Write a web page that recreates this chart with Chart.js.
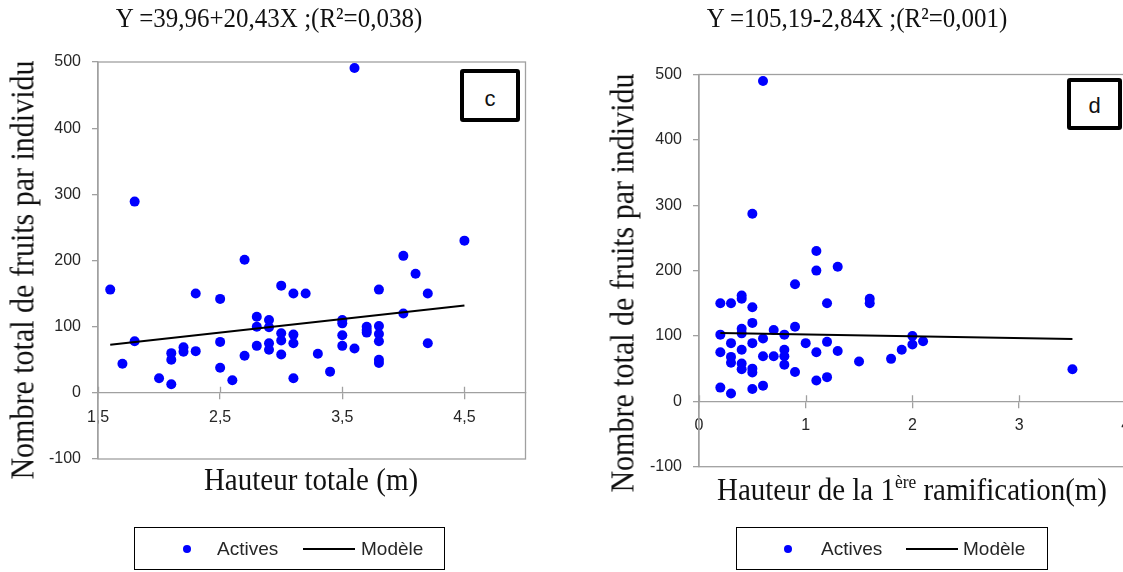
<!DOCTYPE html>
<html lang="fr">
<head>
<meta charset="utf-8">
<title>Nombre total de fruits par individu</title>
<script src="https://cdn.jsdelivr.net/npm/chart.js@4.4.1/dist/chart.umd.min.js"></script>
<style>
  html, body { margin: 0; padding: 0; background: #fff; }
  body { position: relative; width: 1123px; height: 572px; overflow: hidden; }
  .bloc { position: absolute; top: 0; }
  .serif { position: absolute; font-family: 'Liberation Serif', 'Times New Roman', serif; color: #111; white-space: nowrap; text-align: center; }
  .titre { font-size: 25px; line-height: 25px; top: 5px; transform: scaleY(1.12); }
  .axe-x { font-size: 29px; line-height: 29px; transform: scaleY(1.1); }
  .axe-y { font-size: 30px; line-height: 30px; width: 500px; transform: rotate(-90deg) scaleY(1.09); }
  .axe-x sup { font-size: 0.6em; line-height: 0; vertical-align: 0.6em; }
  .lettre { position: absolute; box-sizing: border-box; border: 4px solid #000; border-radius: 3px; background: #fff;
            font: 22px 'Liberation Sans', Arial, sans-serif; color: #111; display: flex; align-items: center; justify-content: center; }
  .legende { position: absolute; box-sizing: border-box; top: 527px; height: 43px; border: 1.5px solid #000; }
  .leg { position: absolute; top: 539px; font: 19px 'Liberation Sans', Arial, sans-serif; line-height: 20px; color: #262626; }
  .pt { position: absolute; top: 545px; width: 8px; height: 8px; border-radius: 50%; background: #0000ff; }
  .trait { position: absolute; top: 548px; width: 52px; height: 2px; background: #000; }
</style>
</head>
<body>
<div class="bloc" style="left:0;"><canvas id="grapheC" width="560" height="572"></canvas></div>
<div class="bloc" style="left:560px;"><canvas id="grapheD" width="580" height="572"></canvas></div>

<div class="serif titre" style="left:0; width:538px;">Y =39,96+20,43X ;(R²=0,038)</div>
<div class="serif titre" style="left:557px; width:600px;">Y =105,19-2,84X ;(R²=0,001)</div>

<div class="serif axe-y" style="left:-227px; top:255px;">Nombre total de fruits par individu</div>
<div class="serif axe-y" style="left:373px; top:268px;">Nombre total de fruits par individu</div>

<div class="serif axe-x" style="left:111px; width:400px; top:465px;">Hauteur totale (m)</div>
<div class="serif axe-x" style="left:662px; width:500px; top:475px;">Hauteur de la 1<sup>ère</sup> ramification(m)</div>

<div class="lettre" style="left:460px; top:69px; width:60px; height:53px; padding-top:6px;">c</div>
<div class="lettre" style="left:1067px; top:78px; width:55px; height:52px; padding-top:4px;">d</div>

<div class="legende" style="left:134px; width:311px;"></div>
<div class="pt" style="left:183px;"></div>
<div class="leg" style="left:217px;">Actives</div>
<div class="trait" style="left:303px;"></div>
<div class="leg" style="left:361px;">Modèle</div>

<div class="legende" style="left:736px; width:312px;"></div>
<div class="pt" style="left:784px;"></div>
<div class="leg" style="left:821px;">Actives</div>
<div class="trait" style="left:906px;"></div>
<div class="leg" style="left:963px;">Modèle</div>

<script>
// graphe c : hauteur totale (m) / nombre de fruits
const hauteurTotale = [1.6, 1.7, 1.8, 1.8, 2.0, 2.1, 2.1, 2.1, 2.2, 2.2, 2.3, 2.3, 2.5, 2.5, 2.5, 2.6, 2.7, 2.7, 2.8, 2.8,
  2.8, 2.9, 2.9, 2.9, 2.9, 3.0, 3.0, 3.0, 3.0, 3.1, 3.1, 3.1, 3.1, 3.2, 3.3, 3.4, 3.5, 3.5, 3.5, 3.5,
  3.6, 3.6, 3.7, 3.7, 3.7, 3.8, 3.8, 3.8, 3.8, 3.8, 3.8, 4.0, 4.0, 4.1, 4.2, 4.2, 4.5];
const fruitsC = [156, 44, 289, 78, 22, 60, 50, 13, 69, 62, 150, 63, 142, 77, 38, 19, 201, 56, 115, 100,
  71, 110, 99, 75, 65, 162, 90, 79, 58, 150, 88, 75, 22, 150, 59, 32, 110, 105, 87, 71,
  491, 67, 100, 95, 91, 156, 101, 89, 78, 50, 45, 207, 120, 180, 150, 75, 230];
const modeleCx = [1.6, 4.5];
const modeleCy = [72.6, 131.9];

// graphe d : hauteur de la 1ère ramification (m) / nombre de fruits
const hauteurRamif = [0.2, 0.2, 0.2, 0.2, 0.3, 0.3, 0.3, 0.3, 0.3, 0.4, 0.4, 0.4, 0.4, 0.4, 0.4, 0.4,
  0.5, 0.5, 0.5, 0.5, 0.5, 0.5, 0.5, 0.6, 0.6, 0.6, 0.6, 0.7, 0.7, 0.8, 0.8, 0.8, 0.8, 0.9, 0.9, 0.9,
  1.0, 1.1, 1.1, 1.1, 1.1, 1.2, 1.2, 1.2, 1.3, 1.3, 1.5, 1.6, 1.6, 1.8, 1.9, 2.0, 2.0, 2.1, 3.5];
const fruitsD = [150, 102, 75, 21, 150, 89, 68, 59, 12, 162, 157, 111, 104, 79, 58, 49,
  287, 144, 120, 89, 50, 44, 19, 490, 96, 69, 24, 109, 69, 102, 79, 69, 56, 179, 114, 45,
  89, 230, 200, 75, 32, 150, 91, 37, 206, 77, 61, 157, 150, 65, 79, 100, 87, 92, 49];
const modeleDx = [0.2, 3.5];
const modeleDy = [104.6, 95.2];

const ticksXc = [1.5, 2.5, 3.5, 4.5];
const ticksXd = [0, 1, 2, 3, 4];
const ticksY = [-100, 0, 100, 200, 300, 400, 500];

Chart.defaults.font.family = "'Liberation Sans', Arial, sans-serif";

// cadre gris de la zone de tracé + petites marques au-dessus de l'axe X
const cadre = {
  id: 'cadre',
  beforeDatasetsDraw(chart) {
    const { ctx, chartArea: a, scales: { x, y } } = chart;
    ctx.save();
    ctx.strokeStyle = '#a0a0a0';
    ctx.lineWidth = 1.3;
    ctx.strokeRect(a.left, a.top, a.right - a.left, a.bottom - a.top);
    const y0 = y.getPixelForValue(0);
    ctx.beginPath();
    x.ticks.forEach(t => {
      const px = Math.round(x.getPixelForValue(t.value)) + 0.5;
      ctx.moveTo(px, y0 - 6);
      ctx.lineTo(px, y0);
    });
    ctx.stroke();
    ctx.restore();
  }
};

function creerGraphe(id, xs, ys, mx, my, xMin, xMax, ticksX, pad) {
  const points = xs.map((x, i) => ({ x, y: ys[i] }));
  const modele = mx.map((x, i) => ({ x, y: my[i] }));
  const grille = { drawOnChartArea: false, drawTicks: true, tickLength: 6, color: '#a0a0a0', lineWidth: 1.3 };

  return new Chart(document.getElementById(id), {
    type: 'scatter',
    data: {
      datasets: [
        {
          label: 'Actives',
          data: points,
          backgroundColor: '#0000ff',
          borderColor: '#0000ff',
          borderWidth: 0,
          pointRadius: 5,
          pointHoverRadius: 5,
          order: 1
        },
        {
          type: 'line',
          label: 'Modèle',
          data: modele,
          borderColor: '#000',
          borderWidth: 2,
          pointRadius: 0,
          fill: false,
          order: 0
        }
      ]
    },
    options: {
      responsive: false,
      animation: false,
      events: [],
      layout: { padding: pad },
      plugins: { legend: { display: false }, tooltip: { enabled: false } },
      scales: {
        x: {
          type: 'linear',
          position: { y: 0 },
          min: xMin,
          max: xMax,
          afterBuildTicks: s => { s.ticks = ticksX.map(v => ({ value: v })); },
          afterFit: s => { s.height = 0; s.paddingLeft = 0; s.paddingRight = 0; },
          ticks: {
            autoSkip: false,
            maxRotation: 0,
            padding: 9,
            color: '#262626',
            font: { size: 16 },
            callback: v => String(v).replace('.', ',')
          },
          grid: grille,
          border: { color: '#a0a0a0', width: 1.3 }
        },
        y: {
          type: 'linear',
          position: 'left',
          min: -100,
          max: 500,
          afterBuildTicks: s => { s.ticks = ticksY.map(v => ({ value: v })); },
          afterFit: s => { s.width = 60; s.paddingTop = 0; s.paddingBottom = 0; },
          ticks: { padding: 11, color: '#262626', font: { size: 16 } },
          grid: grille,
          border: { color: '#a0a0a0', width: 1.3 }
        }
      }
    },
    plugins: [cadre]
  });
}

creerGraphe('grapheC', hauteurTotale, fruitsC, modeleCx, modeleCy, 1.5, 5, ticksXc,
  { left: 38, top: 62, right: 34.5, bottom: 113 });
creerGraphe('grapheD', hauteurRamif, fruitsD, modeleDx, modeleDy, 0, 4, ticksXd,
  { left: 79, top: 74.5, right: 14.2, bottom: 105.3 });
</script>
</body>
</html>
